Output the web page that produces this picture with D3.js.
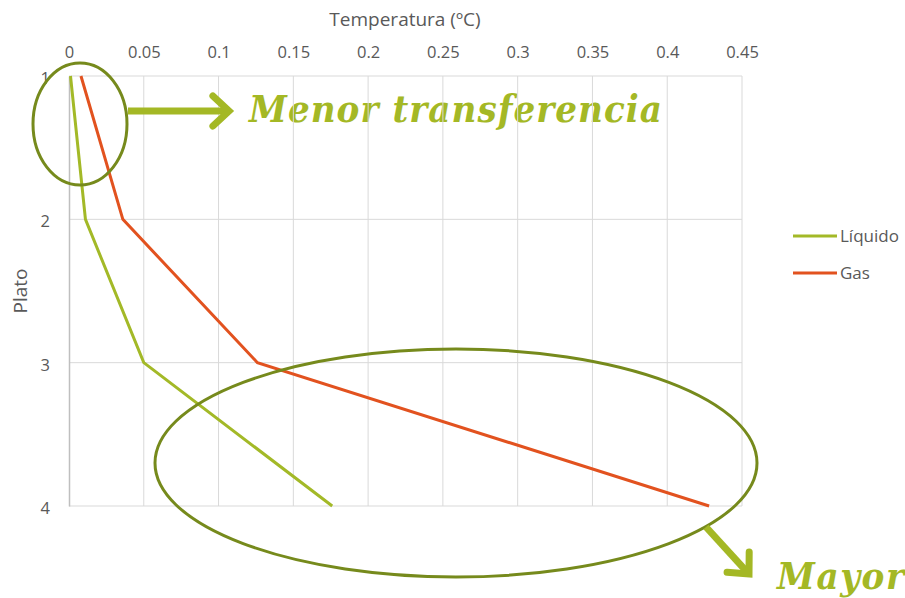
<!DOCTYPE html>
<html>
<head>
<meta charset="utf-8">
<script src="https://cdn.jsdelivr.net/npm/d3@7"></script>
<style>
body { margin: 0; background: #fff; }
text { font-family: "Open Sans", "Noto Sans", sans-serif; }
</style>
</head>
<body>
<div id="chart"></div>
<script>
var platos = [1, 2, 3, 4];
var liquido = [0.001, 0.011, 0.05, 0.176];
var gas = [0.008, 0.036, 0.126, 0.428];
var xTicks = [0, 0.05, 0.1, 0.15, 0.2, 0.25, 0.3, 0.35, 0.4, 0.45];
var seriesNames = ['Líquido', 'Gas'];
var seriesColors = ['#a3b927', '#e2521f'];

var width = 905, height = 598;
var plot = {left: 69, right: 742, top: 76, bottom: 506};

var svg = d3.select('#chart').append('svg')
	.attr('width', width)
	.attr('height', height);

var xScale = d3.scaleLinear()
	.domain([0, 0.45])
	.range([plot.left, plot.right]);

var yScale = d3.scaleLinear()
	.domain([1, 4])
	.range([plot.top, plot.bottom]);

var annColor = '#768a1c', textColor = '#a4b825';

// annotation texts (sit under the gridlines)
function bigText(x, y, len, str) {
	svg.append('text')
		.attr('x', x).attr('y', y)
		.attr('textLength', len)
		.attr('lengthAdjust', 'spacing')
		.style('font-family', '"DejaVu Serif Condensed", "DejaVu Serif", serif')
		.style('font-weight', 'bold')
		.style('font-style', 'italic')
		.style('font-size', '38px')
		.style('fill', textColor)
		.text(str);
}
bigText(249, 122, 413, 'Menor transferencia');
bigText(777, 589, 127, 'Mayor');

// gridlines
svg.append('g').selectAll('line').data(xTicks.slice(1))
	.enter().append('line')
	.attr('x1', function(d) { return xScale(d); })
	.attr('x2', function(d) { return xScale(d); })
	.attr('y1', plot.top)
	.attr('y2', plot.bottom)
	.style('stroke', '#d9d9d9')
	.style('stroke-width', 1);

svg.append('g').selectAll('line').data(platos)
	.enter().append('line')
	.attr('x1', plot.left)
	.attr('x2', plot.right)
	.attr('y1', function(d) { return yScale(d); })
	.attr('y2', function(d) { return yScale(d); })
	.style('stroke', '#d9d9d9')
	.style('stroke-width', 1);

// axes
var xAxis = d3.axisTop(xScale)
	.tickValues(xTicks)
	.tickSize(0)
	.tickPadding(18)
	.tickFormat(function(d) { return String(d); });

var xGuide = svg.append('g')
	.attr('transform', 'translate(0,' + plot.top + ')')
	.call(xAxis);
xGuide.select('.domain').remove();
xGuide.selectAll('text')
	.style('font-size', '16.5px')
	.style('fill', '#595959')
	.style('font-family', '"Open Sans", sans-serif');

var yAxis = d3.axisLeft(yScale)
	.tickValues(platos)
	.tickSize(0)
	.tickPadding(19)
	.tickFormat(d3.format('d'));

var yGuide = svg.append('g')
	.attr('transform', 'translate(' + plot.left + ',0)')
	.call(yAxis);
yGuide.select('.domain')
	.style('stroke', '#bfbfbf')
	.style('stroke-width', 1.5);
yGuide.selectAll('text')
	.attr('dy', '0.45em')
	.style('font-size', '16.5px')
	.style('fill', '#595959')
	.style('font-family', '"Open Sans", sans-serif');

// axis titles
svg.append('text')
	.attr('x', 405)
	.attr('y', 26)
	.attr('text-anchor', 'middle')
	.style('font-size', '19px')
	.style('fill', '#595959')
	.text('Temperatura (ºC)');

svg.append('text')
	.attr('transform', 'translate(27,' + 291 + ') rotate(-90)')
	.attr('text-anchor', 'middle')
	.style('font-size', '19px')
	.style('fill', '#595959')
	.text('Plato');

// series
var line = d3.line()
	.x(function(d) { return xScale(d[0]); })
	.y(function(d) { return yScale(d[1]); });

[liquido, gas].forEach(function(vals, i) {
	svg.append('path')
		.datum(vals.map(function(v, j) { return [v, platos[j]]; }))
		.attr('d', line)
		.style('fill', 'none')
		.style('stroke', seriesColors[i])
		.style('stroke-width', 3);
});

// legend
var legend = svg.append('g').attr('transform', 'translate(793,236)');
seriesNames.forEach(function(name, i) {
	var g = legend.append('g').attr('transform', 'translate(0,' + (i * 37) + ')');
	g.append('line')
		.attr('x1', 0).attr('x2', 44)
		.style('stroke', seriesColors[i])
		.style('stroke-width', 3);
	g.append('text')
		.attr('x', 47).attr('y', 6)
		.style('font-size', '17px')
		.style('fill', '#595959')
		.text(name);
});

// annotation shapes
svg.append('ellipse')
	.attr('cx', 80).attr('cy', 124)
	.attr('rx', 47).attr('ry', 61)
	.style('fill', 'none')
	.style('stroke', annColor)
	.style('stroke-width', 3);

svg.append('ellipse')
	.attr('cx', 456).attr('cy', 463)
	.attr('rx', 301).attr('ry', 114)
	.style('fill', 'none')
	.style('stroke', annColor)
	.style('stroke-width', 3);

function arrow(x1, y1, x2, y2) {
	var a = Math.atan2(y2 - y1, x2 - x1), h = 22, s = 0.75;
	svg.append('line')
		.attr('x1', x1).attr('y1', y1)
		.attr('x2', x2 - 4 * Math.cos(a)).attr('y2', y2 - 4 * Math.sin(a))
		.style('stroke', textColor)
		.style('stroke-width', 7);
	svg.append('path')
		.attr('d', 'M' + (x2 - h * Math.cos(a - s)) + ',' + (y2 - h * Math.sin(a - s)) +
			'L' + x2 + ',' + y2 +
			'L' + (x2 - h * Math.cos(a + s)) + ',' + (y2 - h * Math.sin(a + s)))
		.style('fill', 'none')
		.style('stroke', textColor)
		.style('stroke-width', 7)
		.style('stroke-linecap', 'round')
		.style('stroke-linejoin', 'miter');
}
arrow(128, 111, 229, 111);
arrow(706, 527, 749, 574);
</script>
</body>
</html>
